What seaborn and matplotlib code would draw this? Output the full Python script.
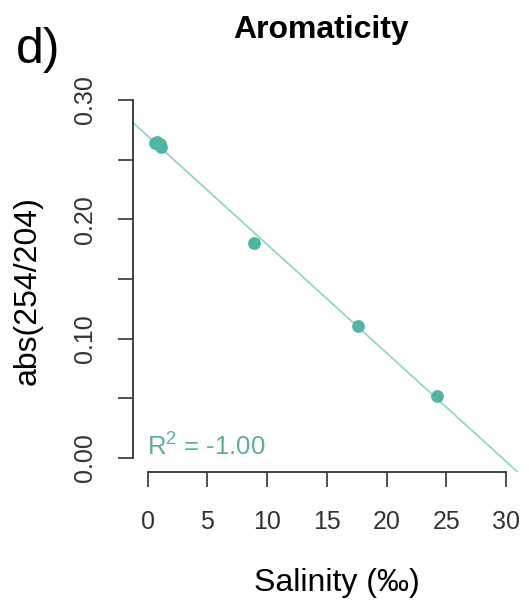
import matplotlib
matplotlib.use("Agg")
import matplotlib.pyplot as plt
import numpy as np
import pandas as pd
import seaborn as sns

# ---- data ----
salinity = [0.6, 0.8, 1.0, 1.1, 8.9, 17.6, 24.2]
abs_ratio = [0.264, 0.265, 0.263, 0.261, 0.180, 0.111, 0.052]
x_ticks = [0, 5, 10, 15, 20, 25, 30]
x_tick_labels = ["0", "5", "10", "15", "20", "25", "30"]
y_ticks = [0.00, 0.05, 0.10, 0.15, 0.20, 0.25, 0.30]
y_tick_labels = ["0.00", "", "0.10", "", "0.20", "", "0.30"]
title_text = "Aromaticity"
panel_text = "d)"
x_label = "Salinity (‰)"
y_label = "abs(254/204)"
r2_text = "R$^{2}$ = -1.00"

sns.set_theme(style="white")
plt.rcParams["font.family"] = ["Liberation Sans", "DejaVu Sans"]
plt.rcParams["mathtext.fontset"] = "custom"
plt.rcParams["mathtext.rm"] = "Liberation Sans"
plt.rcParams["mathtext.it"] = "Liberation Sans:italic"
plt.rcParams["mathtext.bf"] = "Liberation Sans:bold"
plt.rcParams["text.color"] = "black"

W, H = 529, 601
fig = plt.figure(figsize=(W / 100, H / 100), dpi=100)
ax = fig.add_axes([133.4 / W, 1 - 472.3 / H, 387.0 / W, 386.6 / H])
ax.set_xlim(-1.2, 31.2)
ax.set_ylim(-0.012, 0.312)

df = pd.DataFrame({"salinity": salinity, "abs_ratio": abs_ratio})
point_color = "#4fb6a1"
line_color = "#93d5c6"

sns.regplot(data=df, x="salinity", y="abs_ratio", ax=ax, scatter=False,
            ci=None, truncate=False,
            line_kws=dict(color=line_color, lw=1.3, zorder=2))
sns.scatterplot(data=df, x="salinity", y="abs_ratio", ax=ax, s=85,
                color=point_color, edgecolor=point_color, linewidth=0,
                zorder=3, legend=False)
ax.set_xlim(-1.2, 31.2)
ax.set_ylim(-0.012, 0.312)

axis_color = "#333333"
for side in ["top", "right"]:
    ax.spines[side].set_visible(False)
ax.spines["left"].set_bounds(0, 0.3)
ax.spines["bottom"].set_bounds(0, 30)
for side in ["left", "bottom"]:
    ax.spines[side].set_color(axis_color)
    ax.spines[side].set_linewidth(1.3)

ax.set_xticks(x_ticks)
ax.set_xticklabels(x_tick_labels)
ax.set_yticks(y_ticks)
ax.set_yticklabels(y_tick_labels, rotation=90, va="center")
ax.tick_params(axis="both", which="major", direction="out", length=11,
               width=1.2, color=axis_color, labelsize=18,
               labelcolor=axis_color, bottom=True, left=True)
ax.tick_params(axis="x", pad=16)
ax.tick_params(axis="y", pad=15)

ax.set_xlabel(x_label, fontsize=23, color="black", va="center")
ax.xaxis.set_label_coords((337 - 133.4) / 387.0, (472.3 - 583) / 386.6)
ax.set_ylabel(y_label, fontsize=23, color="black", va="center")
ax.yaxis.set_label_coords((28 - 133.4) / 387.0, (472.3 - 291) / 386.6)

ax.text(-0.1, 0.002, r2_text, fontsize=18.5, color="#5aae9c",
        ha="left", va="baseline")

fig.text(321.5 / W, 1 - 38 / H, title_text, fontsize=23, fontweight="bold",
         color="black", ha="center", va="baseline")
fig.text(16 / W, 1 - 63 / H, panel_text, fontsize=36, color="black",
         ha="left", va="baseline")

fig.savefig("out.png", dpi=100)
